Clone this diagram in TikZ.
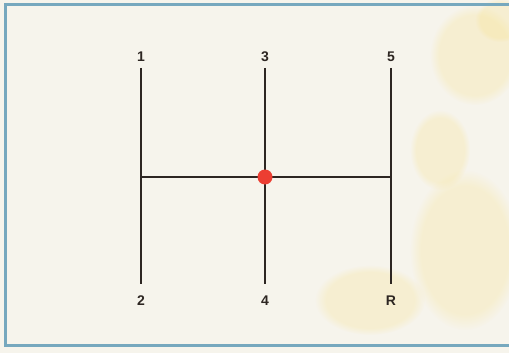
\documentclass[tikz,border=0pt]{standalone}
\usepackage{fontspec}
\setmainfont{Liberation Sans}
\usetikzlibrary{fadings}
\definecolor{paper}{RGB}{246,244,236}
\definecolor{frame}{RGB}{118,168,190}
\definecolor{ink}{RGB}{45,38,34}
\definecolor{knob}{RGB}{236,62,50}
\definecolor{stain}{RGB}{248,226,140}
\tikzset{
  gate/.style={draw=ink, line width=2.8pt},
  lbl/.style={font=\fontsize{14}{14}\selectfont\bfseries, text=ink, inner sep=0pt},
  blot/.style={fill=stain, path fading=circle with fuzzy edge 20 percent, opacity=0.28},
}
\begin{document}
\begin{tikzpicture}[x=1pt,y=-1pt]
\useasboundingbox (0,0) rectangle (509,353);
\fill[paper] (0,0) rectangle (509,353);
% faint yellow stains
\fill[blot] (475,55) ellipse (45 and 50);
\fill[blot] (465,250) ellipse (55 and 80);
\fill[blot] (370,300) ellipse (55 and 35);
\fill[blot] (500,20) ellipse (25 and 22);
\fill[blot] (440,150) ellipse (30 and 40);
% frame
\draw[frame, line width=3pt] (5.5,4.5) rectangle (515,345.5);
% gate positions
\coordinate (t1) at (141,68);
\coordinate (b1) at (141,284);
\coordinate (t3) at (265,68);
\coordinate (b3) at (265,284);
\coordinate (t5) at (391,68);
\coordinate (b5) at (391,284);
\coordinate (m1) at (141,177);
\coordinate (m5) at (391,177);
\draw[gate] (t1) -- (b1);
\draw[gate] (t3) -- (b3);
\draw[gate] (t5) -- (b5);
\draw[gate] (m1) -- (m5);
\node[circle, fill=knob, minimum size=15pt, inner sep=0pt] (knob) at (265,177) {};
\node[lbl] (g1) at (141,57) {1};
\node[lbl] (g3) at (265,57) {3};
\node[lbl] (g5) at (391,57) {5};
\node[lbl] (g2) at (141,301) {2};
\node[lbl] (g4) at (265,301) {4};
\node[lbl] (gR) at (391,301) {R};
\end{tikzpicture}
\end{document}
